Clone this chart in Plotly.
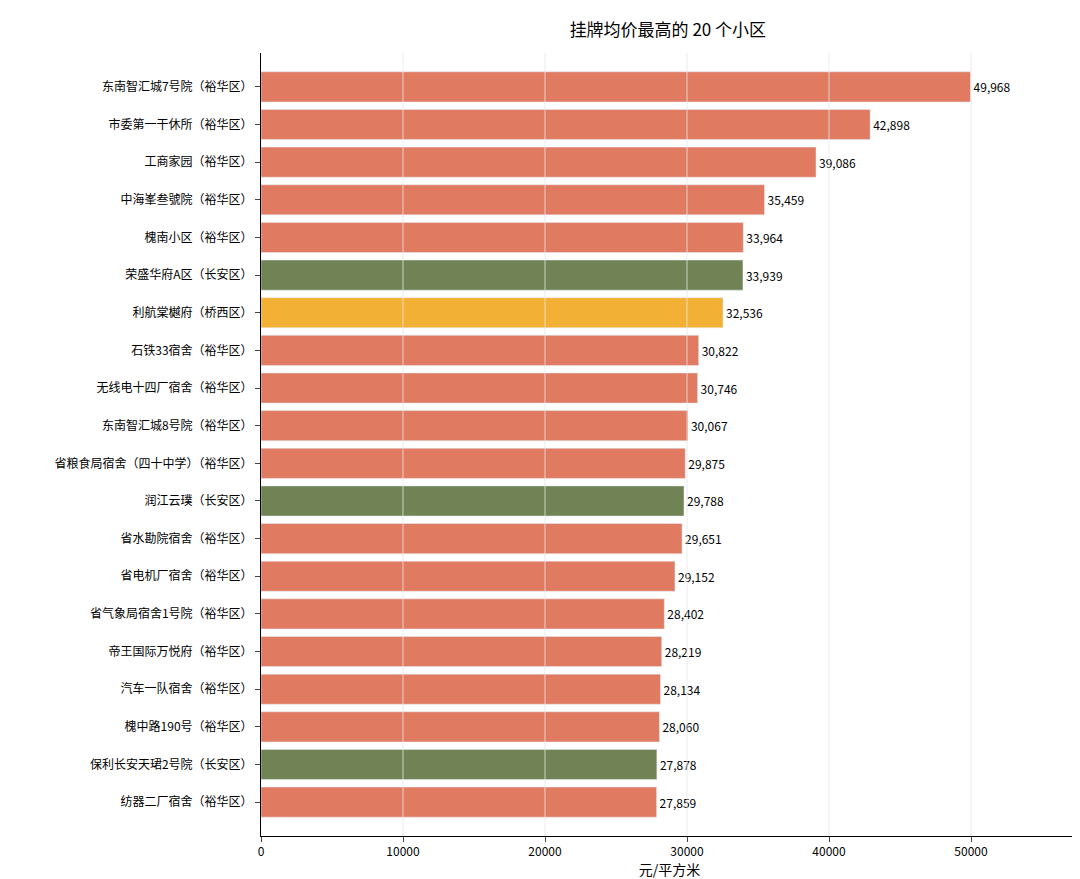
import plotly.graph_objects as go

names = ["东南智汇城7号院（裕华区）","市委第一干休所（裕华区）","工商家园（裕华区）","中海峯叁號院（裕华区）",
"槐南小区（裕华区）","荣盛华府A区（长安区）","利航棠樾府（桥西区）","石铁33宿舍（裕华区）",
"无线电十四厂宿舍（裕华区）","东南智汇城8号院（裕华区）","省粮食局宿舍（四十中学）（裕华区）","润江云璞（长安区）",
"省水勘院宿舍（裕华区）","省电机厂宿舍（裕华区）","省气象局宿舍1号院（裕华区）","帝王国际万悦府（裕华区）",
"汽车一队宿舍（裕华区）","槐中路190号（裕华区）","保利长安天珺2号院（长安区）","纺器二厂宿舍（裕华区）"]
values = [49968,42898,39086,35459,33964,33939,32536,30822,30746,30067,29875,29788,29651,29152,28402,28219,28134,28060,27878,27859]
district_colors = {"裕华区":"#E07B61","长安区":"#718355","桥西区":"#F2B134"}
colors = [district_colors[n.rsplit("（",1)[1].rstrip("）")] for n in names]

fig = go.Figure(go.Bar(x=values, y=names, orientation="h", marker_color=colors, width=0.8,
    text=[f"{v:,}" for v in values], textposition="outside", cliponaxis=False,
    textfont=dict(size=12, color="black")))
for gx in [10000,20000,30000,40000,50000]:
    fig.add_shape(type="line", x0=gx, x1=gx, y0=0, y1=1, yref="paper", layer="above",
                  line=dict(color="rgba(230,230,230,0.8)", width=1))
fig.update_layout(
    width=1080, height=879, plot_bgcolor="white", paper_bgcolor="white",
    margin=dict(l=253, r=10, t=45, b=51),
    font=dict(family="Noto Sans CJK SC", size=12, color="black"),
    title=dict(text="挂牌均价最高的 20 个小区", x=0.611, xanchor="center", y=0.982, font=dict(size=17)),
    showlegend=False,
    xaxis=dict(range=[0,57535], tickvals=[0,10000,20000,30000,40000,50000], tickformat="d",
               showline=True, linecolor="black", ticks="outside", showgrid=False,
               title=dict(text="元/平方米", standoff=4), zeroline=False),
    yaxis=dict(autorange="reversed", showline=True, linecolor="black", ticks="outside",
               range=None, showgrid=False),
)
fig.update_yaxes(range=[19.9, -0.9], autorange=False)
fig.write_html("out.html")
